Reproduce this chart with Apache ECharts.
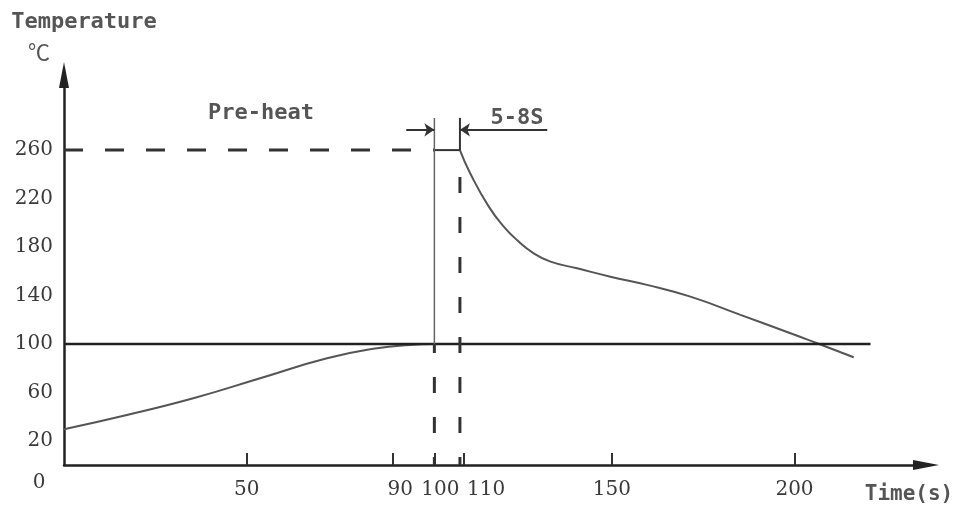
<!DOCTYPE html>
<html><head><meta charset="utf-8">
<script src="https://cdn.jsdelivr.net/npm/echarts@6/dist/echarts.min.js"></script>
<style>html,body{margin:0;padding:0;background:#fff}#c{width:958px;height:510px}</style>
</head><body><div id="c"></div>
<script>
// ---- data (time in s, temperature in °C) ----
const preheatTime = [0, 17.2, 35.4, 53.7, 72, 85.7, 94.8, 101.4];
const preheatTemp = [29.5, 41.3, 55.1, 71.6, 88.1, 96.4, 99.1, 100];
const coolTime = [108.4, 111.2, 116.3, 120.4, 124, 128.6, 133.2, 140.5, 149.6, 159.6, 171.5, 185.2, 198.9, 206.2, 216.2];
const coolTemp = [260, 240.9, 213.3, 196.8, 185.8, 174.8, 167.9, 162.4, 155.5, 148.7, 139, 123.9, 108.8, 100.5, 89];
const peakTemp = 260;
const preheatLevel = 100;
const peakStart = 101.4;
const peakEnd = 108.4;
const levelLineEnd = 220.8;
const bracketTop = 286.6;
const bracketArrowTemp = 276.7;
const bracketLeftFrom = 93.7;
const bracketRightFrom = 132.3;
const dashedRightTop = 245;
const xTickValues = [50, 90, 101.4, 109.4, 150, 200];
const xTickLabels = ['50', '90', '100', '110', '150', '200'];
const yTickValues = [20, 60, 100, 140, 180, 220, 260];
const yTickLabels = ['20', '60', '100', '140', '180', '220', '260'];
const xMax = 236, yMax = 322;

const zip = (a, b) => a.map((v, i) => [v, b[i]]);
const seg = (p, q) => [p, q];

const chart = echarts.init(document.getElementById('c'));
const serif = 'DejaVu Serif';
const mono = 'DejaVu Sans Mono';
const labelColor = '#3a3a3a';
const textColor = '#555';
const baseRich = { fontFamily: serif, fontSize: 20, color: labelColor };
const shift = [0, 15, 12, 45, 0, 0];
const rich = {};
shift.forEach((s, i) => { rich['s' + i] = Object.assign({}, baseRich, s ? { padding: [0, 0, 0, s] } : {}); });

function lineSeries(data, style) {
  return { type: 'line', data, symbol: 'none', silent: true, animation: false,
    lineStyle: Object.assign({ color: '#333', width: 2 }, style) };
}
function monoText(text, x, y, size) {
  return { type: 'text', x, y, style: { text, fontFamily: mono, fontSize: size || 22, fontWeight: 'bold', fill: textColor, align: 'center', verticalAlign: 'middle' } };
}

const option = {
  animation: false,
  grid: { left: 64, top: 75, width: 862, height: 390 },
  xAxis: {
    type: 'value', min: 0, max: xMax,
    splitLine: { show: false },
    axisLine: { lineStyle: { color: '#222', width: 2.5 }, symbol: ['none', 'triangle'], symbolSize: [10, 26] },
    axisTick: { show: true, inside: true, length: 12, customValues: xTickValues, lineStyle: { color: '#333', width: 2 } },
    axisLabel: {
      customValues: xTickValues, margin: 15,
      fontFamily: serif, fontSize: 20, color: labelColor,
      formatter: function (v) {
        let idx = 0, best = Infinity;
        xTickValues.forEach((t, i) => { const d = Math.abs(t - v); if (d < best) { best = d; idx = i; } });
        return '{s' + idx + '|' + xTickLabels[idx] + '}';
      },
      rich
    }
  },
  yAxis: {
    type: 'value', min: 0, max: yMax,
    splitLine: { show: false },
    axisLine: { show: true, lineStyle: { color: '#222', width: 2.5 }, symbol: ['none', 'triangle'], symbolSize: [10, 26] },
    axisTick: { show: false },
    axisLabel: {
      customValues: yTickValues, margin: 11,
      fontFamily: serif, fontSize: 20, color: labelColor,
      formatter: function (v) { const i = yTickValues.indexOf(v); return i >= 0 ? yTickLabels[i] : ''; }
    }
  },
  graphic: [
    monoText('Temperature', 84, 22),
    { type: 'text', x: 39, y: 52, style: { text: '℃', fontFamily: 'Noto Sans CJK SC', fontSize: 22, fill: textColor, align: 'center', verticalAlign: 'middle' } },
    monoText('Pre-heat', 261, 113),
    monoText('5-8S', 517, 118),
    monoText('Time(s)', 909, 495, 21),
    { type: 'text', x: 39, y: 483, style: { text: '0', fontFamily: serif, fontSize: 20, fill: labelColor, align: 'center', verticalAlign: 'middle' } }
  ],
  series: [
    Object.assign(lineSeries(zip(preheatTime, preheatTemp), { color: '#555', width: 2 }), { smooth: 0.5 }),
    Object.assign(lineSeries(zip(coolTime, coolTemp), { color: '#555', width: 2 }), { smooth: 0.5 }),
    lineSeries(seg([0, preheatLevel], [levelLineEnd, preheatLevel]), { color: '#222', width: 2.5 }),
    lineSeries(seg([0, peakTemp], [peakStart, peakTemp]), { color: '#333', width: 3, type: [19, 22] }),
    lineSeries(seg([peakStart, peakTemp], [peakEnd, peakTemp]), { color: '#333', width: 2 }),
    lineSeries(seg([peakStart, preheatLevel], [peakStart, bracketTop]), { color: '#666', width: 1.5 }),
    lineSeries(seg([peakStart, 0], [peakStart, preheatLevel]), { color: '#333', width: 3, type: [16, 24], dashOffset: 8 }),
    lineSeries(seg([peakEnd, peakTemp], [peakEnd, bracketTop]), { color: '#333', width: 2 }),
    lineSeries(seg([peakEnd, 0], [peakEnd, dashedRightTop]), { color: '#333', width: 3, type: [16, 24], dashOffset: 8 }),
    {
      type: 'line', data: [], silent: true, animation: false,
      itemStyle: { color: '#333' },
      markLine: {
        silent: true, animation: false,
        symbol: ['none', 'arrow'], symbolSize: 10,
        label: { show: false },
        itemStyle: { color: '#333' },
        lineStyle: { color: '#333', width: 2, type: 'solid' },
        data: [
          [{ coord: [bracketLeftFrom, bracketArrowTemp] }, { coord: [peakStart, bracketArrowTemp] }],
          [{ coord: [bracketRightFrom, bracketArrowTemp] }, { coord: [peakEnd, bracketArrowTemp] }]
        ]
      }
    }
  ]
};
chart.setOption(option);
</script>
</body></html>
